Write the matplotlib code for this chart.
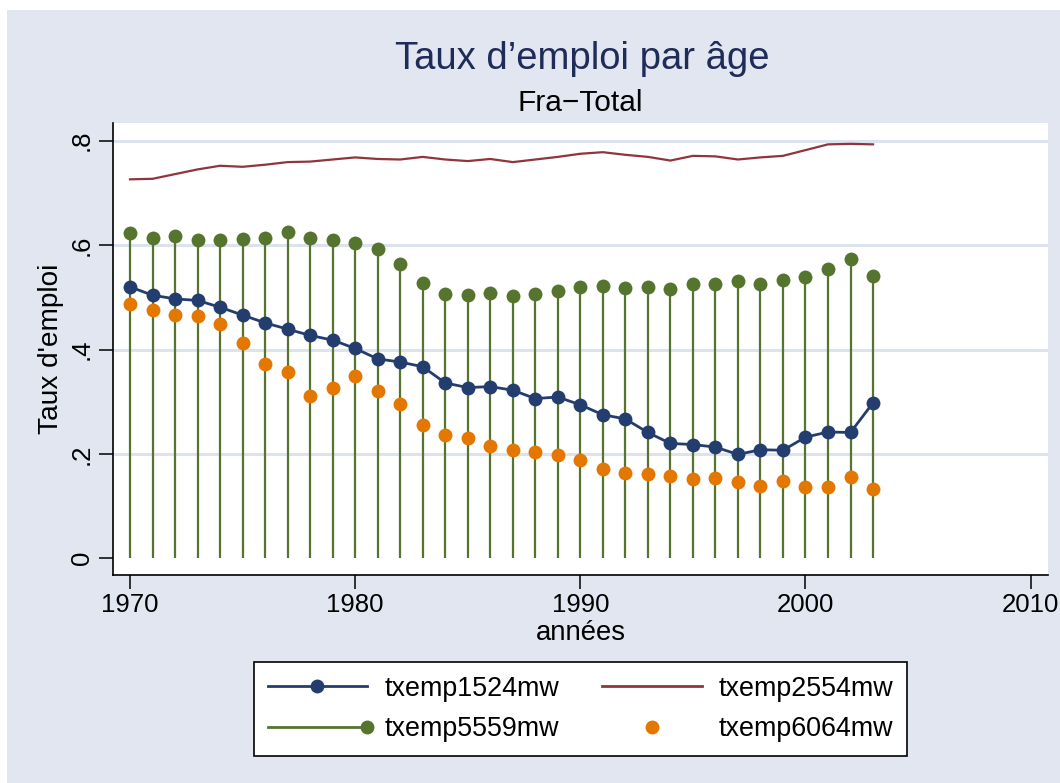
import matplotlib
matplotlib.use('Agg')
import matplotlib.pyplot as plt
from matplotlib.lines import Line2D
from matplotlib.patches import Rectangle
from matplotlib.legend_handler import HandlerBase

plt.rcParams['font.family'] = ['Liberation Sans', 'DejaVu Sans']

years = list(range(1970, 2004))
txemp1524mw = [0.520, 0.504, 0.497, 0.494, 0.481, 0.466, 0.451, 0.439, 0.427, 0.418,
               0.402, 0.382, 0.376, 0.367, 0.336, 0.327, 0.329, 0.322, 0.306, 0.309,
               0.294, 0.275, 0.267, 0.241, 0.220, 0.218, 0.213, 0.199, 0.208, 0.207,
               0.232, 0.242, 0.241, 0.298]
txemp2554mw = [0.726, 0.727, 0.736, 0.745, 0.752, 0.750, 0.754, 0.759, 0.760, 0.764,
               0.768, 0.765, 0.764, 0.769, 0.764, 0.761, 0.765, 0.759, 0.764, 0.769,
               0.775, 0.778, 0.773, 0.769, 0.762, 0.771, 0.770, 0.764, 0.768, 0.771,
               0.782, 0.793, 0.794, 0.793]
txemp5559mw = [0.623, 0.614, 0.617, 0.609, 0.610, 0.612, 0.614, 0.625, 0.614, 0.609,
               0.604, 0.592, 0.564, 0.527, 0.507, 0.505, 0.508, 0.503, 0.507, 0.513,
               0.519, 0.522, 0.518, 0.520, 0.516, 0.525, 0.526, 0.531, 0.525, 0.533,
               0.538, 0.555, 0.574, 0.541]
txemp6064mw = [0.488, 0.476, 0.467, 0.465, 0.449, 0.412, 0.373, 0.356, 0.310, 0.326,
               0.349, 0.321, 0.296, 0.256, 0.236, 0.231, 0.216, 0.207, 0.204, 0.197,
               0.189, 0.171, 0.163, 0.162, 0.158, 0.152, 0.154, 0.146, 0.138, 0.149,
               0.137, 0.137, 0.155, 0.132]

xticks = [1970, 1980, 1990, 2000, 2010]
yticks = [0, 0.2, 0.4, 0.6, 0.8]
ytick_labels = ['0', '.2', '.4', '.6', '.8']

title = 'Taux d\u2019emploi par âge'
subtitle = 'Fra\u2212Total'
xlabel = 'années'
ylabel = "Taux d'emploi"

C_BLUE = '#233E6E'
C_RED = '#90353B'
C_GREEN = '#55752F'
C_ORANGE = '#E37700'
C_BG = '#E1E6F0'
C_GRID = '#DDE3EE'
C_TITLE = '#1F2B58'

W, H = 1060, 783
fig = plt.figure(figsize=(W / 100, H / 100), dpi=100)
fig.patch.set_facecolor('white')
fig.add_artist(Rectangle((7 / W, 0), 1 - 7 / W, 1 - 10 / H, transform=fig.transFigure,
                         facecolor=C_BG, edgecolor='none', zorder=-10))

ax = fig.add_axes([113 / W, 1 - 575 / H, (1048 - 113) / W, (575 - 122.7) / H])
ax.set_facecolor('white')
ax.set_xlim(1969.245, 2010.77)
ax.set_ylim(-0.032, 0.8345)

for v in yticks[1:]:
    ax.axhline(v, color=C_GRID, lw=2.2, zorder=0.5)

ms = 10
ax.vlines(years, 0, txemp5559mw, color=C_GREEN, lw=1.6, zorder=1)
ax.plot(years, txemp5559mw, ls='none', marker='o', ms=ms, color=C_GREEN, mec='none', zorder=2)
ax.plot(years, txemp1524mw, ls='-', lw=2.0, marker='o', ms=ms, color=C_BLUE, mec='none', zorder=3)
ax.plot(years, txemp2554mw, ls='-', lw=1.6, color=C_RED, zorder=3)
ax.plot(years, txemp6064mw, ls='none', marker='o', ms=ms, color=C_ORANGE, mec='none', zorder=4)

for s in ['top', 'right']:
    ax.spines[s].set_visible(False)
for s in ['left', 'bottom']:
    ax.spines[s].set_linewidth(1.2)
    ax.spines[s].set_color('black')

ax.set_xticks(xticks)
ax.set_xticklabels([str(x) for x in xticks])
ax.set_yticks(yticks)
ax.set_yticklabels(ytick_labels, rotation=90, va='center')
ax.tick_params(axis='both', length=10, width=1.1, labelsize=18.5)
ax.tick_params(axis='x', pad=3)
ax.tick_params(axis='y', pad=4)
ax.set_xlabel(xlabel, fontsize=19.8, labelpad=2)
ax.set_ylabel(ylabel, fontsize=20.2, labelpad=4)

fig.text(582 / W, 1 - 59 / H, title, fontsize=27.5, color=C_TITLE, ha='center', va='center')
fig.text(580 / W, 1 - 103 / H, subtitle, fontsize=21.5, color='black', ha='center', va='center')


class HandlerDrop(HandlerBase):
    def create_artists(self, legend, orig_handle, xdescent, ydescent, width, height, fontsize, trans):
        y = height / 2 - ydescent
        line = Line2D([-xdescent, width - xdescent], [y, y], color=C_GREEN, lw=2.0, transform=trans)
        mk = Line2D([width - xdescent], [y], ls='none', marker='o', ms=ms, color=C_GREEN, mec='none', transform=trans)
        return [line, mk]


h1524 = Line2D([], [], color=C_BLUE, lw=2.0, marker='o', ms=ms, mec='none')
h2554 = Line2D([], [], color=C_RED, lw=2.0)
h5559 = Line2D([], [], color=C_GREEN)
h6064 = Line2D([], [], ls='none', color=C_ORANGE, marker='o', ms=ms, mec='none')

leg = fig.legend([h1524, h5559, h2554, h6064],
                 ['txemp1524mw', 'txemp5559mw', 'txemp2554mw', 'txemp6064mw'],
                 ncol=2, loc='center', bbox_to_anchor=(580.5 / W, 1 - 709 / H),
                 fontsize=19.4, handlelength=3.7, handletextpad=0.63, columnspacing=1.6,
                 labelspacing=0.55, borderpad=0.5, numpoints=1,
                 fancybox=False, frameon=True, edgecolor='black', framealpha=1,
                 handler_map={h5559: HandlerDrop()})
leg.get_frame().set_linewidth(1.2)

fig.savefig('out.png', dpi=100)
